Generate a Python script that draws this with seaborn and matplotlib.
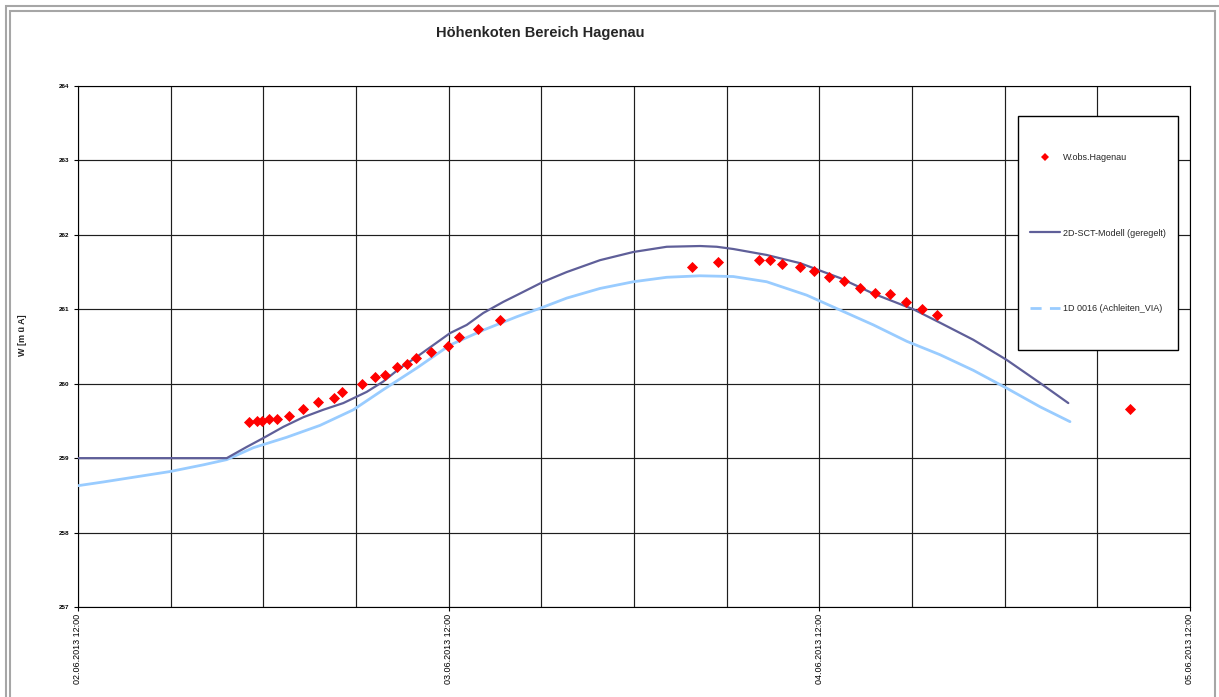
import matplotlib
matplotlib.use("Agg")
import matplotlib.pyplot as plt
import seaborn as sns
from matplotlib.lines import Line2D
from matplotlib.patches import Rectangle
from matplotlib.ticker import MultipleLocator, FixedLocator

# ---------------- data (hours after 02.06.2013 12:00) ----------------
tick_hours = [0, 24, 48, 72]
tick_labels = ["02.06.2013 12:00", "03.06.2013 12:00",
               "04.06.2013 12:00", "05.06.2013 12:00"]

obs_h = [11.09, 11.57, 11.93, 12.37, 12.87, 13.64, 14.59, 15.56, 16.58, 17.07,
         18.41, 19.23, 19.88, 20.64, 21.30, 21.87, 22.86, 23.94, 24.69, 25.88,
         27.32, 39.78, 41.42, 44.09, 44.81, 45.60, 46.75, 47.66, 48.63, 49.62,
         50.61, 51.59, 52.60, 53.59, 54.65, 55.64, 68.12]
obs_w = [259.48, 259.50, 259.50, 259.52, 259.53, 259.57, 259.66, 259.76, 259.81, 259.89,
         259.99, 260.09, 260.12, 260.22, 260.27, 260.35, 260.42, 260.51, 260.63, 260.73,
         260.85, 261.57, 261.64, 261.66, 261.66, 261.61, 261.57, 261.52, 261.44, 261.38,
         261.29, 261.22, 261.20, 261.10, 261.01, 260.92, 259.66]

m2d_h = [0, 9.63, 10.92, 12.00, 13.29, 14.59, 15.88, 17.18, 18.69, 19.77,
         20.85, 21.93, 23.01, 24.09, 25.17, 26.24, 27.54, 28.41, 30.13, 31.64,
         33.80, 35.96, 38.12, 40.28, 41.36, 42.43, 44.59, 46.75, 49.34, 51.50,
         54.09, 55.81, 57.97, 60.13, 62.29, 64.12]
m2d_w = [259.00, 259.00, 259.15, 259.27, 259.42, 259.55, 259.65, 259.74, 259.89, 260.03,
         260.21, 260.36, 260.52, 260.68, 260.79, 260.95, 261.10, 261.19, 261.37, 261.50,
         261.66, 261.77, 261.84, 261.85, 261.84, 261.81, 261.73, 261.62, 261.42, 261.21,
         261.00, 260.82, 260.59, 260.32, 260.01, 259.74]

m1d_h = [0, 1.64, 3.80, 5.96, 8.11, 9.63, 11.35, 13.51, 15.67, 17.83,
         19.77, 21.93, 24.09, 26.24, 28.41, 30.13, 31.64, 33.80, 35.96, 38.12,
         40.28, 42.43, 44.59, 47.18, 49.34, 51.50, 53.66, 55.81, 57.97, 60.13,
         62.29, 64.23]
m1d_w = [258.63, 258.68, 258.75, 258.82, 258.91, 258.98, 259.14, 259.28, 259.44, 259.65,
         259.92, 260.21, 260.52, 260.72, 260.90, 261.03, 261.15, 261.28, 261.37, 261.43,
         261.45, 261.44, 261.37, 261.19, 260.99, 260.79, 260.57, 260.39, 260.18, 259.94,
         259.69, 259.49]

labels = ["W.obs.Hagenau", "2D-SCT-Modell (geregelt)", "1D 0016 (Achleiten_VIA)"]
title = "Höhenkoten Bereich Hagenau"
ylabel = "W [m ü A]"

# ---------------- styling ----------------
sns.set_theme(style="white")
plt.rcParams['font.family'] = ['Liberation Sans', 'DejaVu Sans']

C_OBS = "#FF0000"
C_2D = "#5F5F99"
C_1D = "#99CCFF"

W, H = 1219, 697
fig = plt.figure(figsize=(W / 100, H / 100), dpi=100)
fig.patch.set_facecolor("white")
ax = fig.add_axes([78 / W, 1 - 607 / H, (1190 - 78) / W, (607 - 86) / H])

sns.lineplot(x=m1d_h, y=m1d_w, ax=ax, color=C_1D, lw=2.0, sort=False,
             estimator=None, zorder=3)
sns.lineplot(x=m2d_h, y=m2d_w, ax=ax, color=C_2D, lw=1.6, sort=False,
             estimator=None, zorder=4)
sns.scatterplot(x=obs_h, y=obs_w, ax=ax, color=C_OBS, marker="D", s=32,
                linewidth=0, zorder=5)

ax.set_xlim(0, 72)
ax.set_ylim(257, 264)
ax.xaxis.set_major_locator(FixedLocator(tick_hours))
ax.set_xticklabels(tick_labels, rotation=90, fontsize=6.5)
ax.xaxis.set_minor_locator(MultipleLocator(6))
ax.yaxis.set_major_locator(MultipleLocator(1))
ax.set_axisbelow(True)
ax.grid(True, which="both", axis="both", color="#1e1e1e", lw=0.85)
ax.tick_params(axis="x", which="major", direction="out", length=3, width=0.8,
               color="black", pad=2, bottom=True, labelcolor="black")
ax.tick_params(axis="x", which="minor", length=0)
ax.tick_params(axis="y", direction="out", length=3, width=0.8, color="black",
               pad=3, left=True, labelsize=4.5, labelcolor="black")
for lbl in ax.get_yticklabels():
    lbl.set_fontweight("bold")
for s in ax.spines.values():
    s.set_color("black")
    s.set_linewidth(0.8)
ax.set_xlabel("")
ax.set_ylabel("")

# legend box
x0 = (1018 - 78) / 1112
x1 = (1178 - 78) / 1112
y0 = (607 - 350) / 521
y1 = (607 - 116) / 521
ax.add_patch(Rectangle((x0, y0), x1 - x0, y1 - y0, transform=ax.transAxes,
                       facecolor="white", edgecolor="black", lw=1.0, zorder=10))
handles = [
    Line2D([], [], ls="none", marker="D", color=C_OBS, markersize=3.8, mew=0),
    Line2D([], [], color=C_2D, lw=1.6),
    Line2D([], [], color=C_1D, lw=2.0, ls=(0, (4, 3))),
]
leg = ax.legend(handles, labels, loc="center",
                bbox_to_anchor=((x0 + x1) / 2, (y0 + y1) / 2),
                frameon=False, fontsize=6.5, handlelength=3.3,
                handletextpad=0.3, labelspacing=7.4, borderpad=0)
leg.set_zorder(11)

fig.text(540 / W, 1 - 33 / H, title, ha="center", va="center",
         fontsize=10.5, fontweight="bold")
fig.text(22 / W, 1 - 335 / H, ylabel, rotation=90, ha="center", va="center",
         fontsize=6.5, fontweight="bold")

# outer grey frames
gc = "#A6A6A6"
fig.add_artist(Rectangle((6, -20), W + 20, H + 20 - 7 + 1, transform=None,
                         fill=False, edgecolor=gc, lw=1.5))
fig.add_artist(Rectangle((10, -20), 1215 - 10, H + 20 - 11, transform=None,
                         fill=False, edgecolor=gc, lw=1.5))

fig.savefig("out.png", dpi=100, facecolor="white")
